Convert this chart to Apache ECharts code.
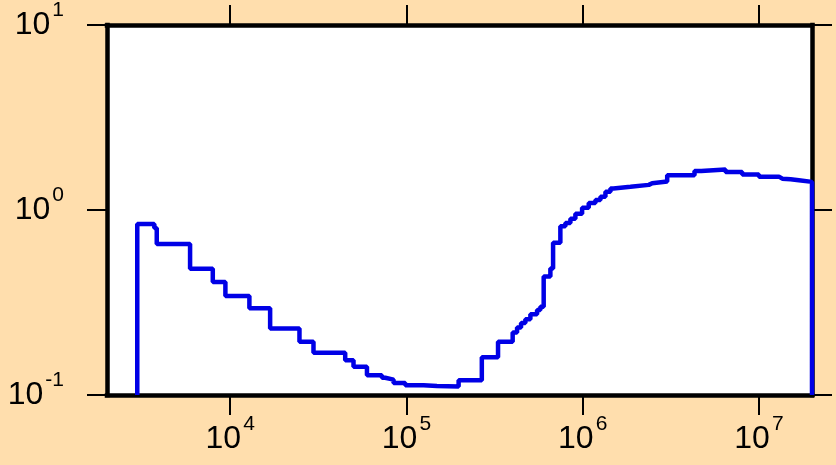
<!DOCTYPE html>
<html>
<head>
<meta charset="utf-8">
<script src="https://cdn.jsdelivr.net/npm/echarts@6/dist/echarts.min.js"></script>
<style>
  html, body { margin: 0; padding: 0; background: #FFDEAD; }
  #chart { width: 836px; height: 465px; }
</style>
</head>
<body>
<div id="chart"></div>
<script>
// bin edges (x) and the histogram value of each bin
var binEdges = [2970, 3711, 3831, 5921, 7966, 9393, 12850, 16850, 24720, 29690,
    44930, 50080, 59700, 72600, 75800, 84500, 98500, 125100, 149000, 197700,
    267700, 330900, 400600, 424300, 447000, 472900, 504900, 551000, 575300, 600700,
    655600, 679200, 747000, 797700, 851600, 909000, 992300, 1082000, 1181000, 1261000,
    1346000, 1437000, 1494000, 1866000, 2371000, 2479000, 3016000, 4309000, 4703000, 6463000,
    8039000, 10000000, 12980000, 13570000, 15120000, 16850000, 20000000];
var binValues = [0.839, 0.799, 0.654, 0.481, 0.408, 0.343, 0.294, 0.229, 0.194, 0.169,
    0.154, 0.142, 0.128, 0.124, 0.121, 0.116, 0.113, 0.112, 0.111, 0.120,
    0.160, 0.194, 0.218, 0.232, 0.245, 0.257, 0.273, 0.288, 0.300, 0.437,
    0.483, 0.665, 0.816, 0.850, 0.898, 0.953, 1.028, 1.091, 1.131, 1.180,
    1.255, 1.307, 1.334, 1.367, 1.395, 1.424, 1.539, 1.625, 1.657, 1.605,
    1.558, 1.514, 1.477, 1.465, 1.447, 1.419];
var xTicks = [1e4, 1e5, 1e6, 1e7];
var yTicks = [0.1, 1, 10];
var floorValue = 0.1;

var lineData = [[binEdges[0], floorValue]];
for (var i = 0; i < binValues.length; i++) {
    lineData.push([binEdges[i], binValues[i]]);
}
lineData.push([binEdges[binEdges.length - 1], binValues[binValues.length - 1]]);
lineData.push([binEdges[binEdges.length - 1], floorValue]);

function powLabel(v) {
    var e = Math.round(Math.log10(v));
    return '{b|10}{e|' + e + '}';
}

var labelRich = {
    b: { fontSize: 32, lineHeight: 50, fontFamily: 'Liberation Sans', color: '#000' },
    e: { fontSize: 21, verticalAlign: 'top', fontFamily: 'Liberation Sans', color: '#000', padding: [0, 0, 0, 2] }
};
var axisLineStyle = { show: true, lineStyle: { color: '#000', width: 4.5, cap: 'square' } };

function makeX(pos, showLabel) {
    return {
        type: 'log', logBase: 10, position: pos, min: 2000, max: 2e7,
        axisLine: axisLineStyle,
        axisTick: { show: true, inside: false, length: 20, customValues: xTicks,
            lineStyle: { color: '#000', width: 2 } },
        axisLabel: { show: showLabel, customValues: xTicks, margin: 19,
            formatter: powLabel, rich: labelRich },
        splitLine: { show: false }
    };
}
function makeY(pos, showLabel) {
    return {
        type: 'log', logBase: 10, position: pos, min: 0.1, max: 10,
        axisLine: axisLineStyle,
        axisTick: { show: true, inside: false, length: 20, customValues: yTicks,
            lineStyle: { color: '#000', width: 2 } },
        axisLabel: { show: showLabel, customValues: yTicks, margin: 43,
            formatter: powLabel, rich: labelRich },
        splitLine: { show: false }
    };
}

var option = {
    backgroundColor: '#FFDEAD',
    animation: false,
    grid: { left: 107, right: 24, top: 20, bottom: 70, show: true,
        backgroundColor: '#FFFFFF', borderWidth: 0 },
    xAxis: [makeX('bottom', true), makeX('top', false)],
    yAxis: [makeY('left', true), makeY('right', false)],
    series: [{
        type: 'line',
        xAxisIndex: 0,
        yAxisIndex: 0,
        step: 'end',
        showSymbol: false,
        data: lineData,
        lineStyle: { color: '#0000E6', width: 4.5 }
    }]
};

var myChart = echarts.init(document.getElementById('chart'));
myChart.setOption(option);
</script>
</body>
</html>
